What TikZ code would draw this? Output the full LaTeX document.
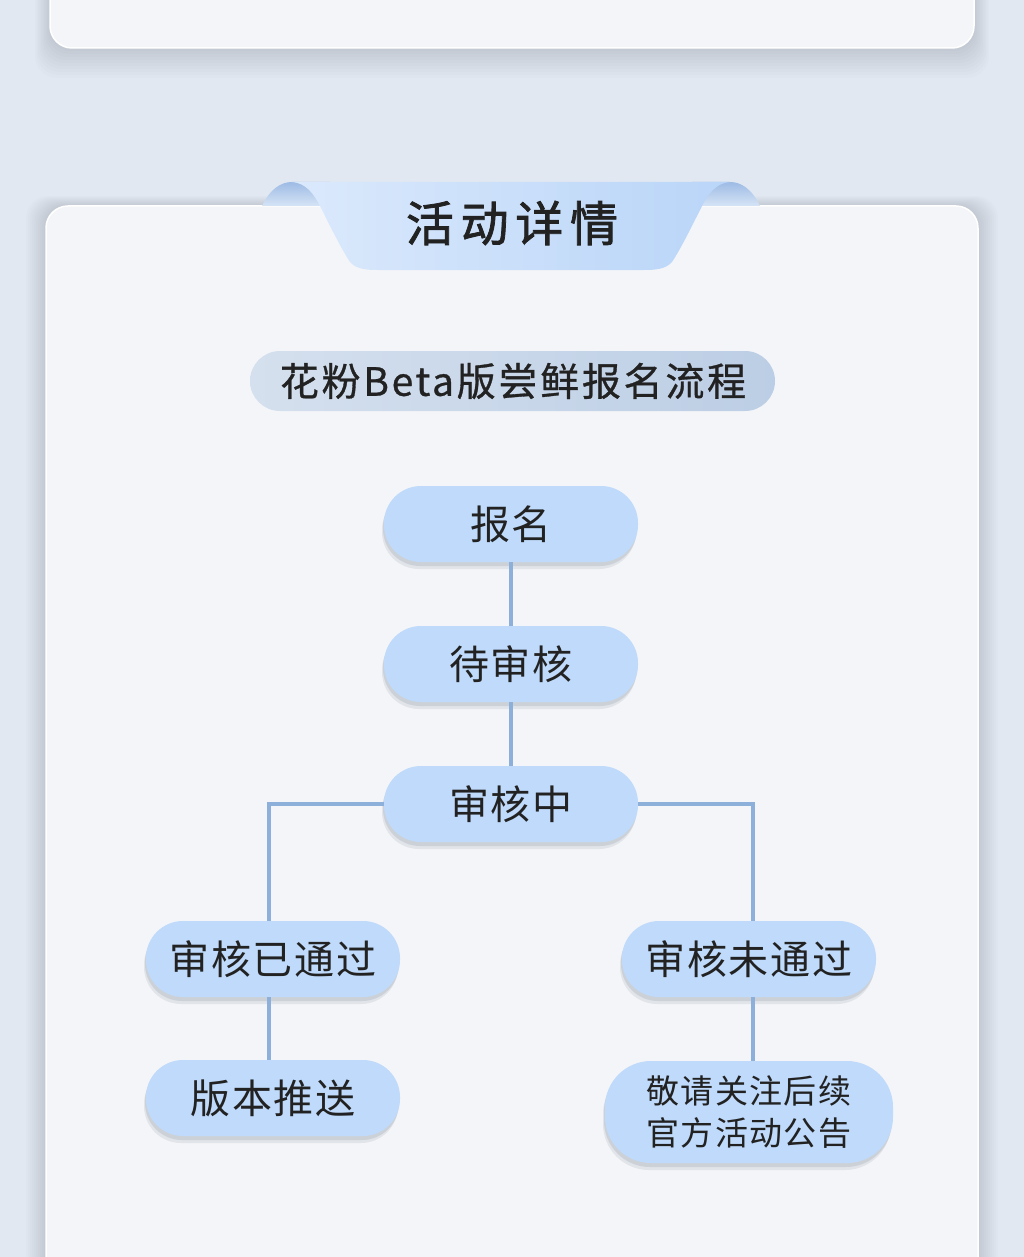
\documentclass[tikz,border=0pt]{standalone}
\usepackage{fontspec}
\setmainfont{Noto Sans CJK SC}
\newfontfamily\titlefont{Noto Sans CJK SC}[FakeBold=1.6,LetterSpace=14]
\newfontfamily\subfont{Noto Sans CJK SC}[FakeBold=0.8,LetterSpace=7]
\newfontfamily\nodefont{Noto Sans CJK SC}[LetterSpace=4]
\usetikzlibrary{shadows}
\definecolor{bg}{HTML}{E1E8F1}
\definecolor{card}{HTML}{F4F5F8}
\definecolor{nodefill}{HTML}{BFDAFA}
\definecolor{conn}{HTML}{8DB0DB}
\definecolor{shadec}{HTML}{8E99A8}
\definecolor{txt}{HTML}{222222}
\definecolor{tabL}{HTML}{DBE9FC}
\definecolor{tabR}{HTML}{B9D5F8}
\definecolor{earT}{HTML}{9DBBE4}
\definecolor{earB}{HTML}{D6E4F6}
\definecolor{pillL}{HTML}{D5E0EE}
\definecolor{pillR}{HTML}{BCCEE5}
\begin{document}
\begin{tikzpicture}[x=1pt,y=-1pt,
  nshadow/.style={general shadow={fill=shadec, opacity=0.18, shadow xshift=-2pt, shadow yshift=-7pt},
                  general shadow={fill=shadec, opacity=0.25, shadow xshift=-1pt, shadow yshift=-4pt}},
  flow/.style={rectangle, rounded corners=37pt, fill=nodefill, minimum width=254pt, minimum height=76pt,
               inner sep=0pt, text=txt, font=\nodefont\fontsize{40}{48}\selectfont, nshadow},
  link/.style={draw=conn, line width=4pt}]
\useasboundingbox (0,0) rectangle (1024,1257);
\fill[bg] (0,0) rectangle (1024,1257);
% top card shadow
\foreach \i in {1,...,10}{
  \fill[black, opacity=0.012, rounded corners=22pt] (50-1.5*\i,-40) rectangle (974+1.5*\i,48+3*\i);
}
\fill[card, draw=white, line width=1.5pt, rounded corners=22pt] (50,-40) rectangle (974,48);
% main card shadow
\foreach \i in {1,...,10}{
  \fill[black, opacity=0.010, rounded corners=22pt] (46-2*\i,206-1*\i) rectangle (978+2*\i,1300);
}
\fill[card, draw=white, line width=1.5pt, rounded corners=22pt] (46,206) rectangle (978,1300);
% tab ears
\shade[top color=earT, bottom color=earB] (262,206) .. controls (270,189) and (281,182) .. (292,182) -- (330,182) -- (330,206) -- cycle;
\shade[top color=earT, bottom color=earB] (760,206) .. controls (752,189) and (741,182) .. (730,182) -- (692,182) -- (692,206) -- cycle;
% tab body
\shade[left color=tabL, right color=tabR]
  (292,182) -- (730,182) .. controls (716,183) and (708,194) .. (702,206)
  .. controls (690,230) and (680,250) .. (672,262) .. controls (666,269) and (656,270) .. (644,270)
  -- (378,270) .. controls (366,270) and (356,269) .. (350,262)
  .. controls (342,250) and (332,230) .. (320,206) .. controls (314,194) and (306,183) .. (292,182) -- cycle;
\node[text=txt, font=\titlefont\fontsize{48}{56}\selectfont] (title) at (512,223) {活动详情};
% subtitle pill
\shade[left color=pillL, right color=pillR, rounded corners=30pt] (250,351) rectangle (775,411);
\node[text=txt, font=\subfont\fontsize{39}{46}\selectfont] (sub) at (513,381) {花粉Beta版尝鲜报名流程};
% flow nodes
\node[flow] (n1) at (511,524) {报名};
\node[flow] (n2) at (511,664) {待审核};
\node[flow] (n3) at (511,804) {审核中};
\node[flow] (n4) at (273,959) {审核已通过};
\node[flow] (n5) at (273,1098) {版本推送};
\node[flow] (n6) at (749,959) {审核未通过};
\node[flow, minimum width=288pt, minimum height=102pt, rounded corners=46pt, align=center,
      font=\nodefont\fontsize{33}{42}\selectfont] (n7) at (749,1112) {敬请关注后续\\官方活动公告};
% connectors
\draw[link] (n1.south) -- (n2.north);
\draw[link] (n2.south) -- (n3.north);
\draw[link] (n3.west) -| ([xshift=-4pt]n4.north);
\draw[link] (n3.east) -| ([xshift=4pt]n6.north);
\draw[link] ([xshift=-4pt]n4.south) -- ([xshift=-4pt]n5.north);
\draw[link] ([xshift=4pt]n6.south) -- ([xshift=4pt]n7.north);
\end{tikzpicture}
\end{document}
